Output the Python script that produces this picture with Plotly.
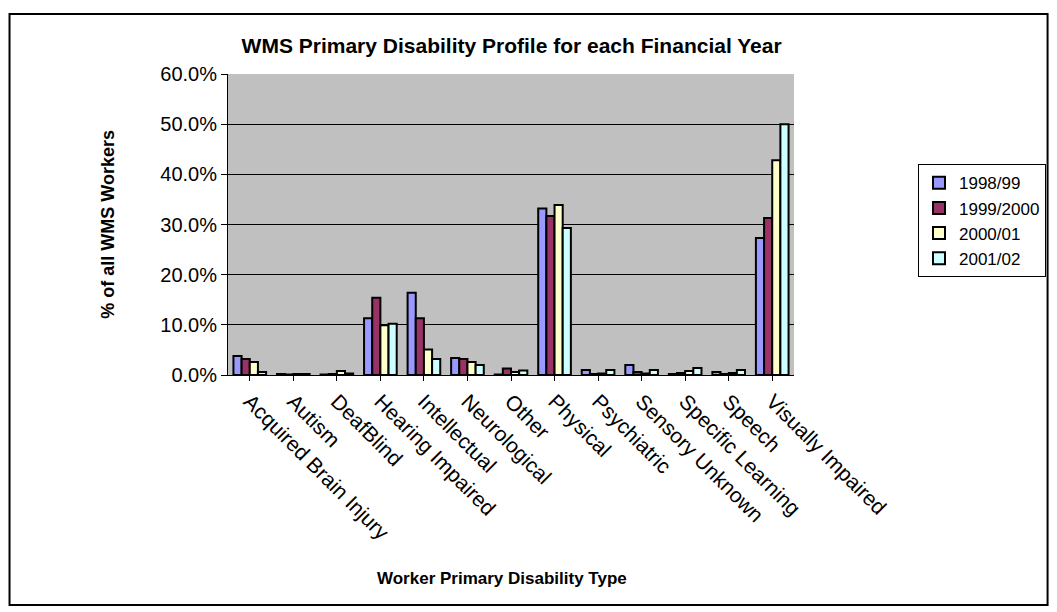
import plotly.graph_objects as go

# Worker primary disability categories
categories = [
    "Acquired Brain Injury", "Autism", "DeafBlind", "Hearing Impaired",
    "Intellectual", "Neurological", "Other", "Physical", "Psychiatric",
    "Sensory Unknown", "Specific Learning", "Speech", "Visually Impaired",
]

# Share of all WMS workers (%) per financial year
fy_1998_99 = [3.8, 0.2, 0.1, 11.3, 16.4, 3.4, 0.1, 33.2, 1.0, 2.0, 0.2, 0.6, 27.3]
fy_1999_2000 = [3.2, 0.1, 0.2, 15.4, 11.3, 3.2, 1.3, 31.7, 0.2, 0.6, 0.4, 0.2, 31.3]
fy_2000_01 = [2.6, 0.2, 0.8, 9.9, 5.1, 2.6, 0.6, 33.9, 0.3, 0.3, 0.8, 0.4, 42.8]
fy_2001_02 = [0.6, 0.2, 0.3, 10.2, 3.2, 2.0, 0.9, 29.3, 1.0, 1.0, 1.4, 1.0, 50.0]

series = [
    ("1998/99", fy_1998_99, "#9999FF"),
    ("1999/2000", fy_1999_2000, "#993366"),
    ("2000/01", fy_2000_01, "#FFFFCC"),
    ("2001/02", fy_2001_02, "#CCFFFF"),
]

y_ticks = [0, 10, 20, 30, 40, 50, 60]
y_tick_text = [f"{v:.1f}%" for v in y_ticks]

FONT = "Liberation Sans, Arial, sans-serif"

fig = go.Figure()
for name, values, color in series:
    fig.add_trace(go.Bar(
        name=name, x=categories, y=values,
        marker=dict(color=color, line=dict(color="black", width=2)),
    ))

fig.update_layout(
    width=1057, height=612,
    margin=dict(l=228, r=262, t=74, b=237),
    paper_bgcolor="white",
    plot_bgcolor="#C0C0C0",
    barmode="group",
    bargap=0.25,
    bargroupgap=0,
    font=dict(family=FONT, size=19, color="black"),
    title=dict(
        text="<b>WMS Primary Disability Profile for each Financial Year</b>",
        x=0.484, xanchor="center", y=1 - 46 / 612, yanchor="middle",
        font=dict(family=FONT, size=21, color="black"),
    ),
    legend=dict(
        x=1.4427, y=0.70, xanchor="right", yanchor="top",
        bordercolor="black", borderwidth=1, bgcolor="white",
        font=dict(family=FONT, size=17),
        tracegroupgap=6, itemwidth=30,
    ),
    showlegend=True,
)

fig.update_xaxes(
    tickangle=45,
    showline=True, linecolor="black", linewidth=1,
    ticks="outside", ticklen=5, tickcolor="black",
    tickfont=dict(family=FONT, size=21),
    showgrid=False,
)
fig.update_yaxes(
    range=[0, 60], tickvals=y_ticks, ticktext=y_tick_text,
    showline=True, linecolor="black", linewidth=1,
    ticks="outside", ticklen=6, tickcolor="black",
    showgrid=True, gridcolor="black", gridwidth=1,
    zeroline=False,
    tickfont=dict(family=FONT, size=20),
)

# Axis titles
fig.add_annotation(
    text="<b>% of all WMS Workers</b>", textangle=-90,
    xref="paper", yref="paper", x=-0.2346, y=0.5,
    showarrow=False, font=dict(family=FONT, size=18),
)
fig.add_annotation(
    text="<b>Worker Primary Disability Type</b>",
    xref="paper", yref="paper", x=0.484, y=-0.714,
    showarrow=False, font=dict(family=FONT, size=17),
)

# Chart frame
fig.add_shape(
    type="rect", xref="paper", yref="paper",
    x0=-0.386, x1=1.448, y0=-0.764, y1=1.199,
    line=dict(color="black", width=2), layer="below",
)

fig.write_html("out.html")
